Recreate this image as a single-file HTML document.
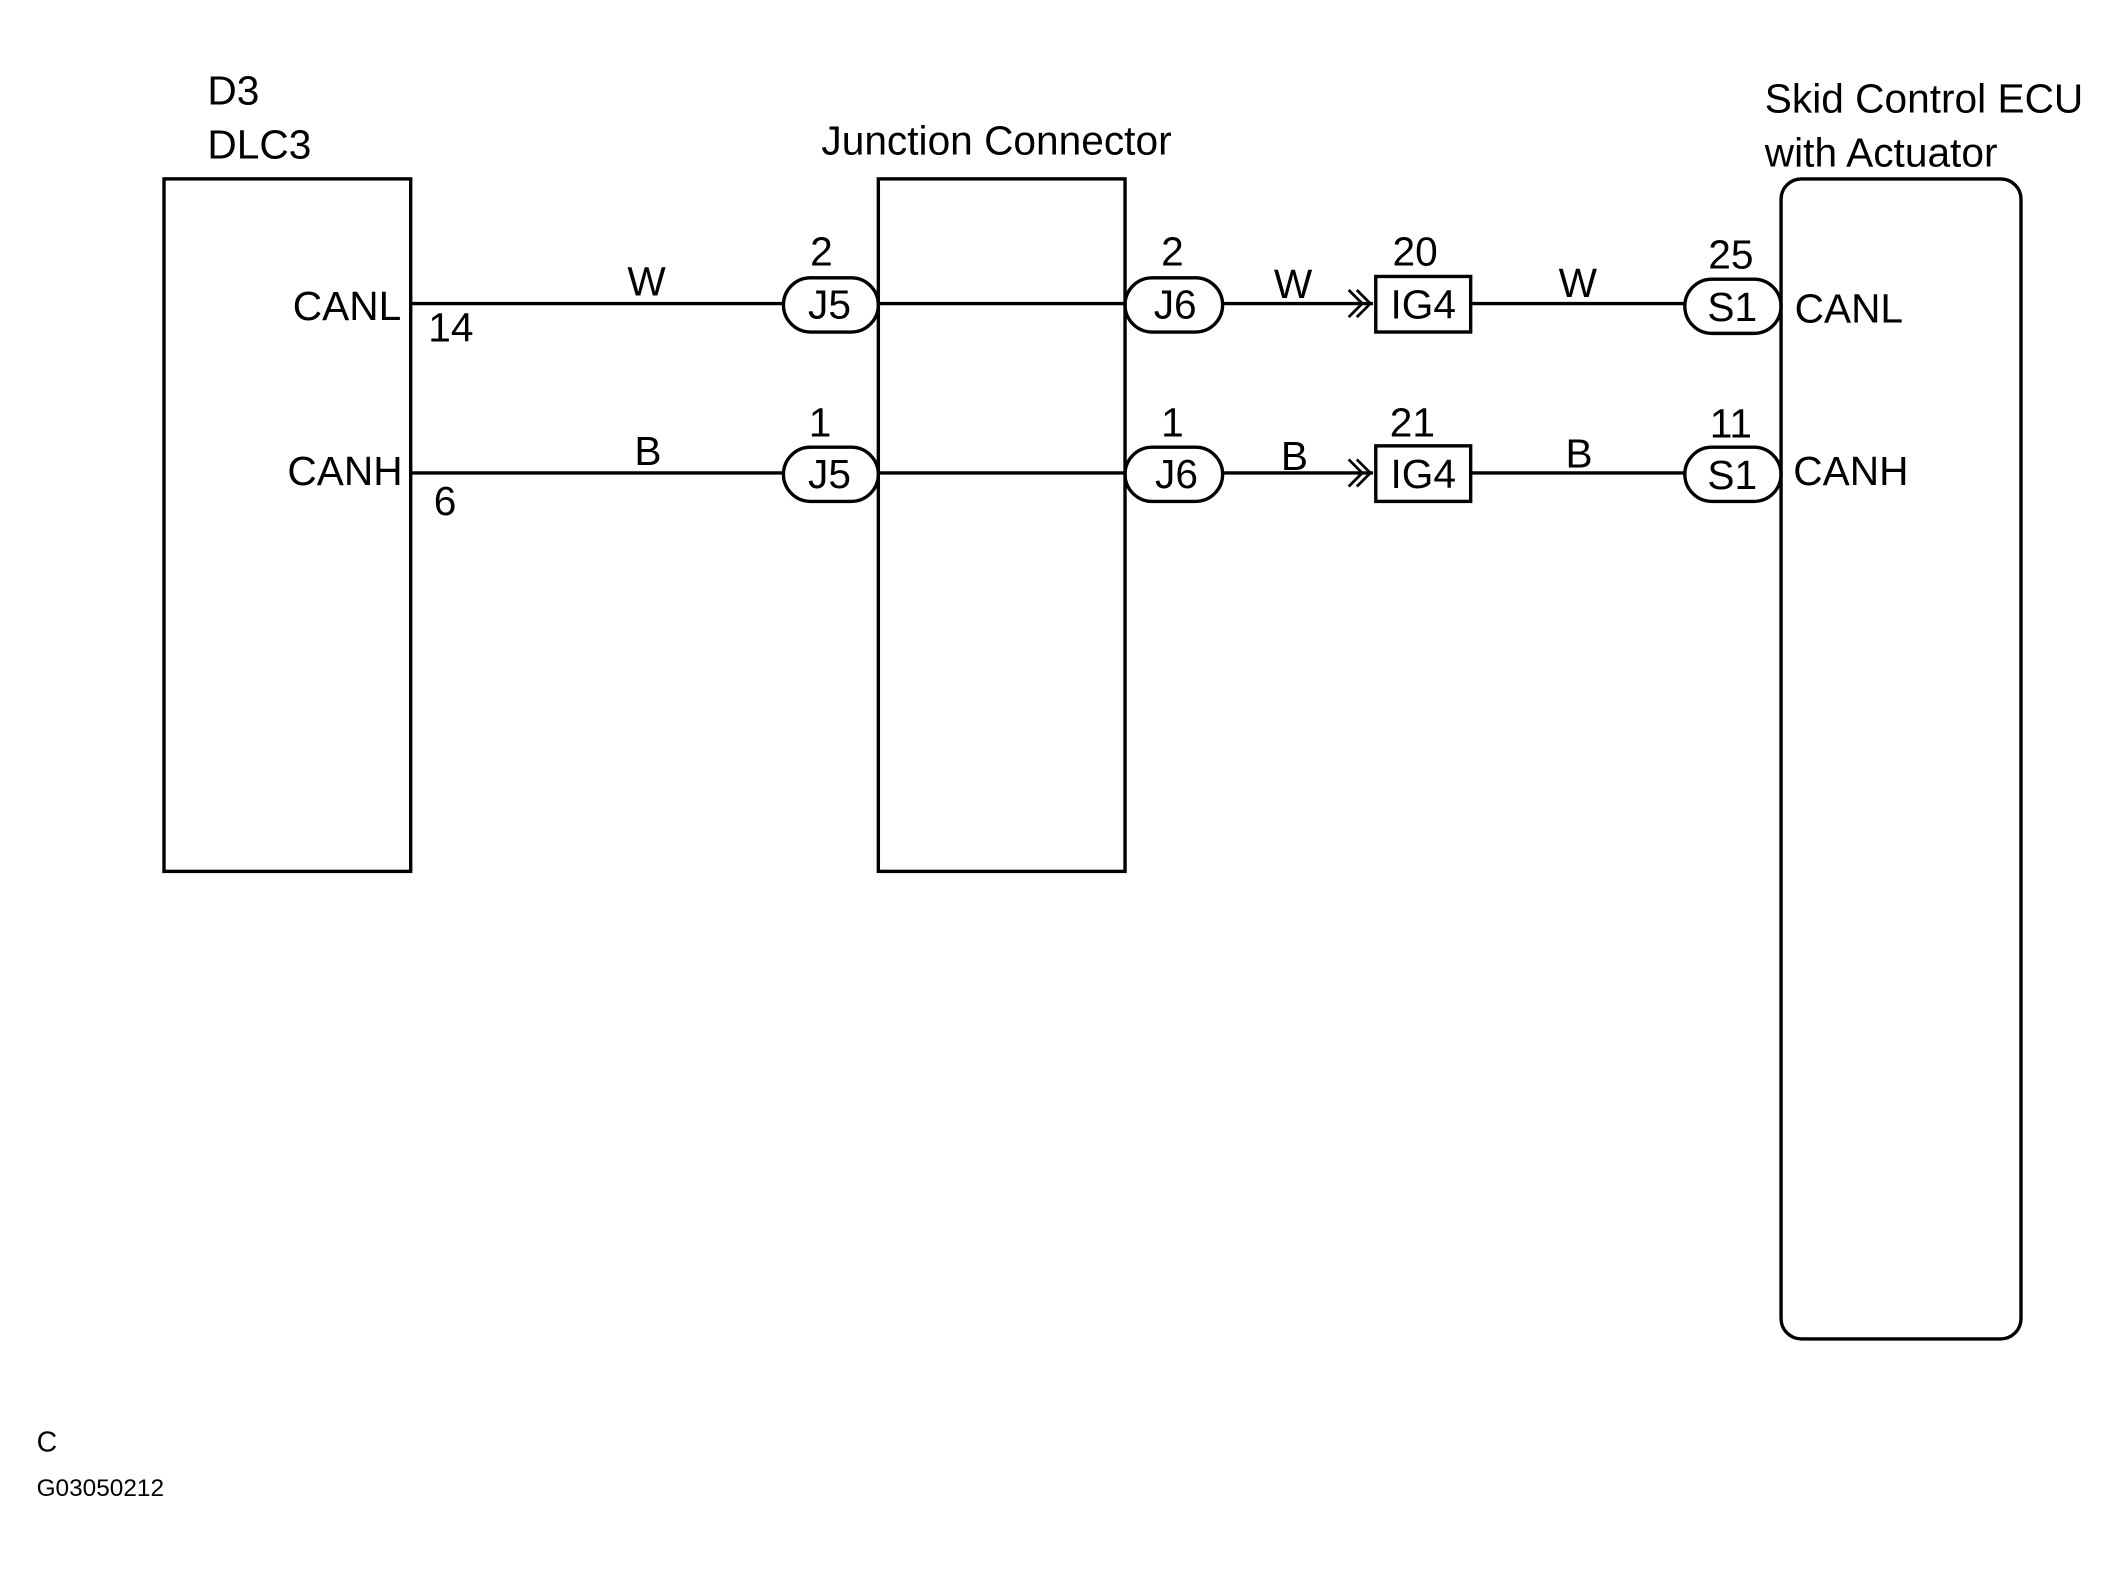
<!DOCTYPE html>
<html><head><meta charset="utf-8"><style>
html,body{margin:0;padding:0;background:#fff;}
svg{display:block;}
text{font-family:"Liberation Sans",Arial,sans-serif;fill:#000;}
</style></head><body>
<svg width="2124" height="1572" viewBox="0 0 1567 1160" preserveAspectRatio="none" xmlns="http://www.w3.org/2000/svg">
<g fill="none" stroke="#000" stroke-width="2.5">
<rect x="121" y="132" width="182" height="511"/>
<rect x="648" y="132" width="182" height="511"/>
<rect x="1314" y="132" width="177" height="856" rx="15"/>
<line x1="303" y1="224" x2="578" y2="224"/>
<line x1="648" y1="224" x2="830" y2="224"/>
<line x1="902" y1="224" x2="1013" y2="224"/>
<line x1="1085" y1="224" x2="1243" y2="224"/>
<line x1="303" y1="349" x2="578" y2="349"/>
<line x1="648" y1="349" x2="830" y2="349"/>
<line x1="902" y1="349" x2="1013" y2="349"/>
<line x1="1085" y1="349" x2="1243" y2="349"/>
<rect x="578" y="205" width="70" height="40" rx="20"/>
<rect x="830" y="205" width="72" height="40" rx="20"/>
<rect x="578" y="330" width="70" height="40" rx="20"/>
<rect x="830" y="330" width="72" height="40" rx="20"/>
<rect x="1243" y="206" width="71" height="40" rx="20"/>
<rect x="1243" y="330" width="71" height="40" rx="20"/>
<rect x="1015" y="204" width="70" height="41"/>
<rect x="1015" y="329" width="70" height="41"/>
<path d="M1001 214 L1011 224 L1001 234 M995 214 L1005 224 L995 234" stroke-width="2"/>
<path d="M1001 339 L1011 349 L1001 359 M995 339 L1005 349 L995 359" stroke-width="2"/>
</g>
<g font-size="30">
<text x="153" y="77">D3</text>
<text x="153" y="117">DLC3</text>
<text x="606" y="114">Junction Connector</text>
<text x="1302" y="83">Skid Control ECU</text>
<text x="1302" y="123">with Actuator</text>
<text x="296" y="236" text-anchor="end">CANL</text>
<text x="297" y="358" text-anchor="end">CANH</text>
<text x="316" y="252">14</text>
<text x="320" y="380">6</text>
<text x="477" y="218" text-anchor="middle">W</text>
<text x="478" y="343" text-anchor="middle">B</text>
<text x="606" y="196" text-anchor="middle">2</text>
<text x="605" y="322" text-anchor="middle">1</text>
<text x="612" y="235" text-anchor="middle">J5</text>
<text x="612" y="360" text-anchor="middle">J5</text>
<text x="865" y="196" text-anchor="middle">2</text>
<text x="865" y="322" text-anchor="middle">1</text>
<text x="867" y="235" text-anchor="middle">J6</text>
<text x="868" y="360" text-anchor="middle">J6</text>
<text x="954" y="220" text-anchor="middle">W</text>
<text x="955" y="347" text-anchor="middle">B</text>
<text x="1044" y="196" text-anchor="middle">20</text>
<text x="1042" y="322" text-anchor="middle">21</text>
<text x="1050" y="235" text-anchor="middle">IG4</text>
<text x="1050" y="360" text-anchor="middle">IG4</text>
<text x="1164" y="219" text-anchor="middle">W</text>
<text x="1165" y="345" text-anchor="middle">B</text>
<text x="1277" y="198" text-anchor="middle">25</text>
<text x="1277" y="323" text-anchor="middle">11</text>
<text x="1278" y="237" text-anchor="middle">S1</text>
<text x="1278" y="361" text-anchor="middle">S1</text>
<text x="1324" y="238">CANL</text>
<text x="1323" y="358">CANH</text>
</g>
<text x="27" y="1071" font-size="21">C</text>
<text x="27" y="1104" font-size="18">G03050212</text>
</svg>
</body></html>
